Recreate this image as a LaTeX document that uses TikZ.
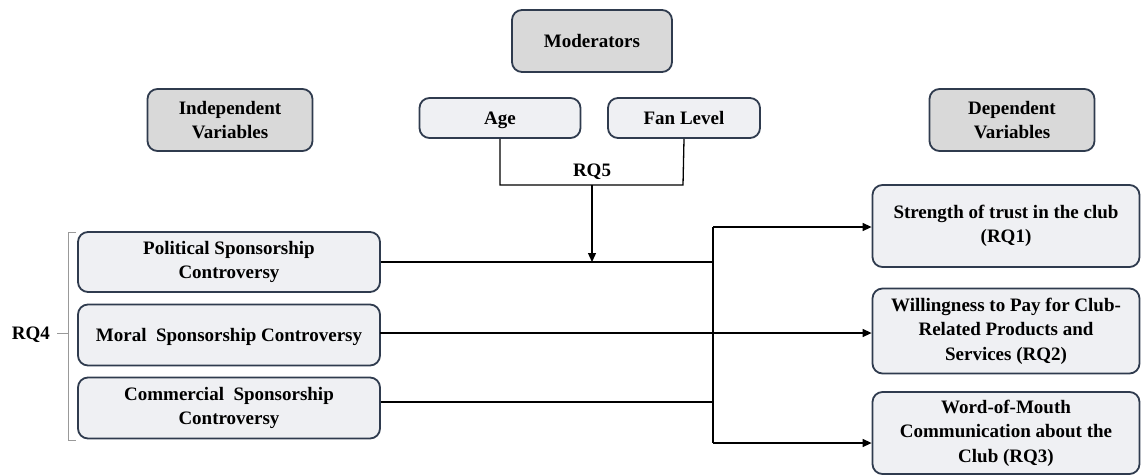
\documentclass[tikz,border=0pt]{standalone}
\usepackage{fontspec}
\setmainfont{Liberation Serif}
\usetikzlibrary{arrows.meta,calc}
\definecolor{boxfill}{HTML}{EFF0F3}
\definecolor{headfill}{HTML}{D9D9D9}
\definecolor{boxline}{HTML}{2F3B4E}
\tikzset{
  every node/.style={font=\fontsize{19}{24.5}\selectfont\bfseries, align=center, inner sep=2pt},
  varbox/.style={draw=boxline, line width=1.8pt, fill=boxfill, rounded corners=10pt},
  headbox/.style={draw=boxline, line width=1.8pt, fill=headfill, rounded corners=10pt},
  onebox/.style={text height=12.6pt, text depth=0pt},
  conn/.style={draw=black, line width=1.3pt},
  arr/.style={conn, -{Triangle[length=9pt,width=8pt]}},
  brk/.style={draw=gray!80, line width=1pt}
}
\begin{document}
\begin{tikzpicture}[x=1pt,y=-1pt]
\useasboundingbox (0,0) rectangle (1142,475);
% header boxes
\node[headbox, onebox, minimum width=160pt, minimum height=62pt] (mod) at (592,41) {Moderators};
\node[headbox, minimum width=165pt, minimum height=62pt] (ind) at (230,120) {Independent\\Variables};
\node[headbox, minimum width=165pt, minimum height=62pt] (dep) at (1012,120) {Dependent\\Variables};
% moderators
\node[varbox, onebox, minimum width=161pt, minimum height=40pt] (age) at (500,118) {Age};
\node[varbox, onebox, minimum width=152pt, minimum height=40pt] (fan) at (684,118) {Fan Level};
% independent
\node[varbox, minimum width=302pt, minimum height=60pt] (pol) at (229,262) {Political Sponsorship\\Controversy};
\node[varbox, onebox, minimum width=302pt, minimum height=61pt] (mor) at (229,335) {Moral\ \ Sponsorship Controversy};
\node[varbox, minimum width=302pt, minimum height=61pt] (com) at (229,408) {Commercial\ \ Sponsorship\\Controversy};
% dependent
\node[varbox, minimum width=267pt, minimum height=82pt] (str) at (1006,226) {Strength of trust in the club\\(RQ1)};
\node[varbox, minimum width=267pt, minimum height=85pt] (wil) at (1006,331) {Willingness to Pay for Club-\\Related Products and\\Services (RQ2)};
\node[varbox, minimum width=267pt, minimum height=82pt] (wom) at (1006,433) {Word-of-Mouth\\Communication about the\\Club (RQ3)};
% RQ5 bracket
\coordinate (m1) at (500,185);
\coordinate (m2) at (683,185);
\coordinate (mm) at (592,185);
\coordinate (mt) at (592,262);
\draw[conn] (age.south) -- (m1) -- (m2) -- (fan.south);
\draw[arr] (mm) -- (mt);
\node[onebox] (rq5) at (592,170) {RQ5};
% right junction
\coordinate (jt) at (713,227);
\coordinate (jp) at (713,262);
\coordinate (jc) at (713,402);
\coordinate (jb) at (713,443);
\coordinate (mo) at (380,333);
\draw[conn] (jt) -- (jb);
\draw[conn] (pol.east) -- (jp);
\draw[conn] (com.east |- jc) -- (jc);
\draw[arr] (jt) -- (jt -| str.west);
\draw[arr] (mo) -- (mo -| wil.west);
\draw[arr] (jb) -- (jb -| wom.west);
% RQ4 bracket
\coordinate (b1) at (76,232);
\coordinate (b2) at (68,232);
\coordinate (b3) at (68,440);
\coordinate (b4) at (76,440);
\coordinate (bm) at (68,333);
\coordinate (bl) at (57,333);
\draw[brk] (b1) -- (b2) -- (b3) -- (b4);
\draw[brk] (bm) -- (bl);
\node[onebox] (rq4) at (31,333) {RQ4};
\end{tikzpicture}
\end{document}
